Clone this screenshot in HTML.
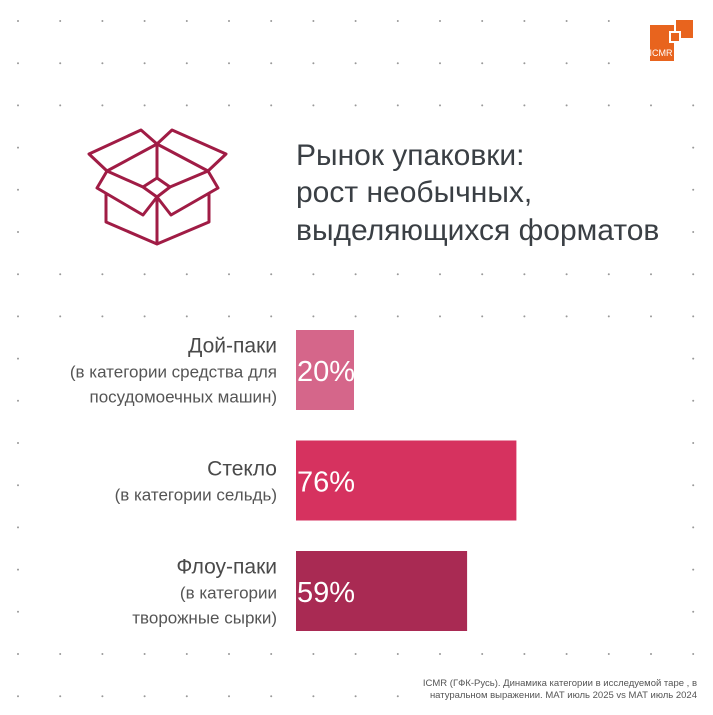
<!DOCTYPE html>
<html><head><meta charset="utf-8">
<style>
html,body{margin:0;padding:0;background:#fff;}
svg{display:block;font-family:"Liberation Sans","Noto Sans CJK SC",sans-serif;}
</style></head>
<body>
<svg id="chart" width="713" height="715" viewBox="0 0 713 715" xmlns="http://www.w3.org/2000/svg">
  <g id="dots"></g>
  <g>
    <rect x="650" y="25" width="24" height="36" fill="#e8641e"/>
    <rect x="676" y="20" width="17" height="18" fill="#e8641e"/>
    <rect x="669" y="31" width="12" height="12" fill="#fff"/>
    <rect x="671" y="33" width="8" height="8" fill="#e8641e"/>
    <text x="661" y="56" font-size="9" fill="#fff" text-anchor="middle">ICMR</text>
  </g>
  <g fill="none" stroke="#a01c45" stroke-width="3" stroke-linejoin="round">
    <path d="M107,171 L157,144 L208,171"/>
    <path d="M157,144 L141,130 L89,154 L107,171"/>
    <path d="M157,144 L172,130 L226,154 L208,171"/>
    <path d="M157,144 L157,178"/>
    <path d="M107,171 L143,187 L157,178 L170,187 L208,171"/>
    <path d="M143,187 L157,197 L170,187"/>
    <path d="M107,171 L97,188 L143,215 L157,197"/>
    <path d="M208,171 L218,188 L171,215 L157,197"/>
    <path d="M106,193 L106,222 L157,244 L209,222 L209,193"/>
    <path d="M157,197 L157,244"/>
  </g>
  <g fill="#3a3f44" font-size="30">
    <text x="296" y="165">Рынок упаковки:</text>
    <text x="296" y="202">рост необычных,</text>
    <text x="296" y="240">выделяющихся форматов</text>
  </g>
  <g id="bars"></g>
  <g fill="#555" font-size="9.5" text-anchor="end">
    <text x="697" y="686">ICMR (ГФК-Русь). Динамика категории  в исследуемой таре , в</text>
    <text x="697" y="698">натуральном выражении. МАТ июль 2025 vs МАТ июль 2024</text>
  </g>
</svg>
<script>
const categories = ["Дой-паки", "Стекло", "Флоу-паки"];
const subLabels = [["(в категории средства для", "посудомоечных машин)"], ["(в категории сельдь)"], ["(в категории", "творожные сырки)"]];
const values = [20, 76, 59];
const colors = ["#d5668a", "#d6325f", "#a92a53"];

const NS = "http://www.w3.org/2000/svg";
const dots = document.getElementById("dots");
const fullRows = [0, 1, 2, 6, 7, 15];
for (let r = 0; r < 17; r++) {
  for (let c = 0; c < 17; c++) {
    const full = fullRows.indexOf(r) >= 0 || (r === 16 && c < 10);
    if (!full && c !== 0 && !(c === 16 && r < 16)) continue;
    const cx = 18 + c * 42.2, cy = 21 + r * 42.2;
    if (cx > 640 && cy < 70) continue;
    const d = document.createElementNS(NS, "circle");
    d.setAttribute("cx", cx);
    d.setAttribute("cy", cy);
    d.setAttribute("r", 1);
    d.setAttribute("fill", "#999");
    
    
    dots.appendChild(d);
  }
}
const x0 = 296, pxPer = 2.9, barH = 80, y0 = 330, step = 110.5;
function xScale(v) { return v * pxPer; }
function yPos(i) { return y0 + i * step; }
const g = document.getElementById("bars");
categories.forEach((cat, i) => {
  const y = yPos(i);
  const rect = document.createElementNS(NS, "rect");
  rect.setAttribute("x", x0);
  rect.setAttribute("y", y);
  rect.setAttribute("width", xScale(values[i]));
  rect.setAttribute("height", barH);
  rect.setAttribute("fill", colors[i]);
  
  
  g.appendChild(rect);
  const val = document.createElementNS(NS, "text");
  val.setAttribute("x", x0 + 1);
  val.setAttribute("y", y + barH / 2 + 11);
  val.setAttribute("font-size", "29");
  val.setAttribute("fill", "#fff");
  val.textContent = values[i] + "%";
  
  
  g.appendChild(val);
  const lines = subLabels[i];
  const total = 1 + lines.length;
  const top = y + barH / 2 - (total * 25) / 2 + 20;
  const t = document.createElementNS(NS, "text");
  t.setAttribute("x", 277);
  t.setAttribute("y", top);
  t.setAttribute("font-size", "21");
  t.setAttribute("fill", "#4a4a4a");
  t.setAttribute("text-anchor", "end");
  t.textContent = cat;
  
  
  g.appendChild(t);
  lines.forEach((ln, j) => {
    const s = document.createElementNS(NS, "text");
    s.setAttribute("x", 277);
    s.setAttribute("y", top + 25 * (j + 1));
    s.setAttribute("font-size", "17");
    s.setAttribute("fill", "#555");
    s.setAttribute("text-anchor", "end");
    s.textContent = ln;
    
    
    g.appendChild(s);
  });
});
</script>
</body></html>
